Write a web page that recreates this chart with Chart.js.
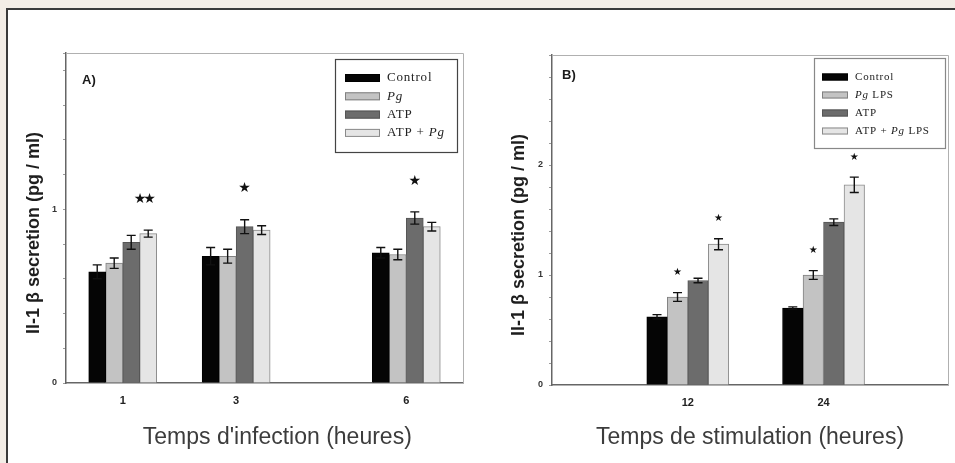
<!DOCTYPE html>
<html>
<head>
<meta charset="utf-8">
<script src="https://cdn.jsdelivr.net/npm/chart.js@4"></script>
<style>
  body { margin: 0; background: #f3ede6; width: 955px; height: 463px; overflow: hidden; position: relative; }
  #panel { position: absolute; left: 6px; top: 8px; width: 949px; height: 455px; background: #fff; border-left: 2px solid #3a3a3a; border-top: 2px solid #3a3a3a; }
  #chartA { position: absolute; left: 0; top: 0; }
  #chartB { position: absolute; left: 478px; top: 0; }
</style>
</head>
<body>
<div id="panel"></div>
<canvas id="chartA" width="478" height="463"></canvas>
<canvas id="chartB" width="477" height="463"></canvas>
<script>
// Panel A - infection time (hours)
var hoursA = [1, 3, 6];
var labelsA = ['Control', 'Pg', 'ATP', 'ATP + Pg'];
var controlA = [0.64, 0.73, 0.75];
var pgA = [0.69, 0.73, 0.74];
var atpA = [0.81, 0.90, 0.95];
var atpPgA = [0.86, 0.88, 0.90];
var controlErrA = [0.04, 0.05, 0.03];
var pgErrA = [0.03, 0.04, 0.03];
var atpErrA = [0.04, 0.04, 0.035];
var atpPgErrA = [0.02, 0.025, 0.025];
var starsA = [[3, 0, '★★'], [2, 1, '★'], [2, 2, '★']]; // [dataset, group, mark]
var yTicksA = [0, 1];

// Panel B - stimulation time (hours)
var hoursB = [12, 24];
var labelsB = ['Control', 'Pg LPS', 'ATP', 'ATP + Pg LPS'];
var controlB = [0.62, 0.70];
var pgLpsB = [0.80, 1.00];
var atpB = [0.95, 1.48];
var atpPgLpsB = [1.28, 1.82];
var controlErrB = [0.02, 0.01];
var pgLpsErrB = [0.04, 0.04];
var atpErrB = [0.02, 0.03];
var atpPgLpsErrB = [0.05, 0.07];
var starsB = [[1, 0, '★'], [3, 0, '★'], [1, 1, '★'], [3, 1, '★']];
var yTicksB = [0, 1, 2];

var fills = ['#050505', '#c3c3c3', '#6c6c6c', '#e5e5e5'];
var edges = ['#000000', '#808080', '#555555', '#8a8a8a'];

function makeSets(hours, labels, series, errs) {
    return series.map(function(vals, i) {
        return {
            label: labels[i],
            data: vals.map(function(v, j) { return { x: hours[j], y: v }; }),
            errors: errs[i],
            backgroundColor: fills[i],
            borderColor: edges[i],
            borderWidth: 1
        };
    });
}

// error bars drawn from the bar elements and the y scale
var errorBars = {
    id: 'errorBars',
    afterDatasetsDraw: function(chart) {
        var ctx = chart.ctx;
        var yScale = chart.scales.y;
        ctx.save();
        ctx.strokeStyle = '#111';
        ctx.lineWidth = 1.4;
        chart.data.datasets.forEach(function(ds, i) {
            chart.getDatasetMeta(i).data.forEach(function(bar, j) {
                var v = ds.data[j].y, e = ds.errors[j];
                var top = yScale.getPixelForValue(v + e);
                var bot = yScale.getPixelForValue(v - e);
                var cap = 4.5;
                ctx.beginPath();
                ctx.moveTo(bar.x, top); ctx.lineTo(bar.x, bot);
                ctx.moveTo(bar.x - cap, top); ctx.lineTo(bar.x + cap, top);
                ctx.moveTo(bar.x - cap, bot); ctx.lineTo(bar.x + cap, bot);
                ctx.stroke();
            });
        });
        ctx.restore();
    }
};

// significance stars above chosen bars
var starMarks = {
    id: 'starMarks',
    afterDatasetsDraw: function(chart, args, opts) {
        var ctx = chart.ctx;
        var yScale = chart.scales.y;
        ctx.save();
        ctx.fillStyle = '#111';
        ctx.font = opts.size + 'px "DejaVu Sans"';
        ctx.textAlign = 'center';
        ctx.textBaseline = 'middle';
        (opts.marks || []).forEach(function(m) {
            var ds = chart.data.datasets[m[0]];
            var bar = chart.getDatasetMeta(m[0]).data[m[1]];
            var v = ds.data[m[1]].y + ds.errors[m[1]];
            if (m[2].length > 1) ctx.letterSpacing = '-3px'; else ctx.letterSpacing = '0px';
            ctx.fillText(m[2], bar.x - (m[2].length > 1 ? 5 : 0), yScale.getPixelForValue(v) - opts.offset);
        });
        ctx.restore();
    }
};

// plot frame, panel letter and boxed legend
var frameLegend = {
    id: 'frameLegend',
    beforeDatasetsDraw: function(chart, args, opts) {
        var a = chart.chartArea, ctx = chart.ctx;
        ctx.save();
        ctx.strokeStyle = '#b0b0b0';
        ctx.lineWidth = 1;
        ctx.beginPath();
        ctx.moveTo(a.left, a.top + 0.5); ctx.lineTo(a.right + 0.5, a.top + 0.5); ctx.lineTo(a.right + 0.5, a.bottom);
        ctx.stroke();
        ctx.restore();
    },
    afterDraw: function(chart, args, opts) {
        var a = chart.chartArea, ctx = chart.ctx;
        ctx.save();
        ctx.fillStyle = '#1a1a1a';
        ctx.font = 'bold 13px "Liberation Sans"';
        ctx.textBaseline = 'middle';
        ctx.fillText(opts.tag, a.left + opts.tagX, a.top + opts.tagY);

        var bx = a.right - opts.inset - opts.w, by = a.top + opts.inset;
        ctx.strokeStyle = opts.boxColor;
        ctx.lineWidth = 1.2;
        ctx.strokeRect(bx + 0.5, by + 0.5, opts.w, opts.h);
        ctx.letterSpacing = opts.spacing;
        chart.data.datasets.forEach(function(ds, i) {
            var cy = by + opts.first + i * opts.step;
            ctx.fillStyle = ds.backgroundColor;
            ctx.fillRect(bx + opts.swX, cy - opts.swH / 2, opts.swW, opts.swH);
            ctx.strokeStyle = ds.borderColor;
            ctx.lineWidth = 1;
            ctx.strokeRect(bx + opts.swX + 0.5, cy - opts.swH / 2 + 0.5, opts.swW - 1, opts.swH - 1);
            var x = bx + opts.swX + opts.swW + 7;
            ds.label.split(/(Pg)/).forEach(function(part) {
                if (!part) return;
                ctx.font = (part === 'Pg' ? 'italic ' : '') + opts.font;
                ctx.fillStyle = '#222';
                ctx.fillText(part, x, cy);
                x += ctx.measureText(part).width;
            });
        });
        ctx.restore();
    }
};

function buildChart(id, cfg) {
    return new Chart(document.getElementById(id), {
        type: 'bar',
        data: { datasets: makeSets(cfg.hours, cfg.labels, cfg.series, cfg.errs) },
        plugins: [errorBars, starMarks, frameLegend],
        options: {
            responsive: false,
            animation: false,
            layout: { padding: cfg.padding },
            datasets: { bar: { barThickness: cfg.barWidth } },
            plugins: {
                legend: { display: false },
                tooltip: { enabled: false },
                starMarks: cfg.stars,
                frameLegend: cfg.legend
            },
            scales: {
                x: {
                    type: 'linear',
                    offset: false,
                    min: 0,
                    max: cfg.xMax,
                    afterBuildTicks: function(s) { s.ticks = cfg.hours.map(function(h) { return { value: h }; }); },
                    afterFit: function(s) { s.height = cfg.xHeight; },
                    grid: { display: false, drawTicks: false, offset: false },
                    border: { display: true, color: '#666', width: 1.5 },
                    ticks: { padding: 11, color: '#222', font: { family: 'Liberation Sans', size: 11, weight: 'bold' } },
                    title: {
                        display: true,
                        text: cfg.xTitle,
                        color: '#3c3c3c',
                        padding: { top: 0, bottom: 12 },
                        font: { family: 'Liberation Sans', size: 23 }
                    }
                },
                y: {
                    min: 0,
                    max: cfg.yMax,
                    afterFit: function(s) { s.width = cfg.yWidth; },
                    grid: { drawOnChartArea: false, drawTicks: true, tickLength: 3, color: '#9a9a9a' },
                    border: { display: true, color: '#666', width: 1.5 },
                    ticks: {
                        stepSize: 0.2,
                        padding: 6,
                        color: '#333',
                        font: { family: 'Liberation Sans', size: 9, weight: 'bold' },
                        callback: function(v) { return cfg.yTicks.indexOf(v) >= 0 ? String(v) : ''; }
                    },
                    title: {
                        display: true,
                        text: 'Il-1 β secretion (pg / ml)' + '\u00a0\u00a0\u00a0\u00a0\u00a0\u00a0',
                        color: '#1e1e1e',
                        padding: { top: cfg.yTitlePad, bottom: 0 },
                        font: { family: 'Liberation Sans', size: 18, weight: 'bold' }
                    }
                }
            }
        }
    });
}

buildChart('chartA', {
    hours: hoursA, labels: labelsA,
    series: [controlA, pgA, atpA, atpPgA],
    errs: [controlErrA, pgErrA, atpErrA, atpPgErrA],
    padding: { left: 0, top: 53, right: 15, bottom: 0 },
    barWidth: 17, xMax: 7, yMax: 1.9, yTicks: yTicksA,
    xHeight: 80, yWidth: 66, yTitlePad: 23,
    xTitle: "\u00a0\u00a0\u00a0\u00a0Temps d'infection (heures)",
    stars: { marks: starsA, offset: 31, size: 14 },
    legend: { tag: 'A)', tagX: 16, tagY: 27, inset: 6, w: 122, h: 93, first: 19, step: 18.3,
              swX: 10, swW: 35, swH: 8, boxColor: '#444', font: '13px "Liberation Serif"', spacing: '0.8px' }
});

buildChart('chartB', {
    hours: hoursB, labels: labelsB,
    series: [controlB, pgLpsB, atpB, atpPgLpsB],
    errs: [controlErrB, pgLpsErrB, atpErrB, atpPgLpsErrB],
    padding: { left: 0, top: 55, right: 7, bottom: 0 },
    barWidth: 20.5, xMax: 35, yMax: 3, yTicks: yTicksB,
    xHeight: 78, yWidth: 74, yTitlePad: 30,
    xTitle: 'Temps de stimulation (heures)',
    stars: { marks: starsB, offset: 20, size: 10 },
    legend: { tag: 'B)', tagX: 10, tagY: 20, inset: 3, w: 131, h: 90, first: 19, step: 18,
              swX: 8, swW: 26, swH: 7, boxColor: '#888', font: '11px "Liberation Serif"', spacing: '0.8px' }
});
</script>
</body>
</html>
